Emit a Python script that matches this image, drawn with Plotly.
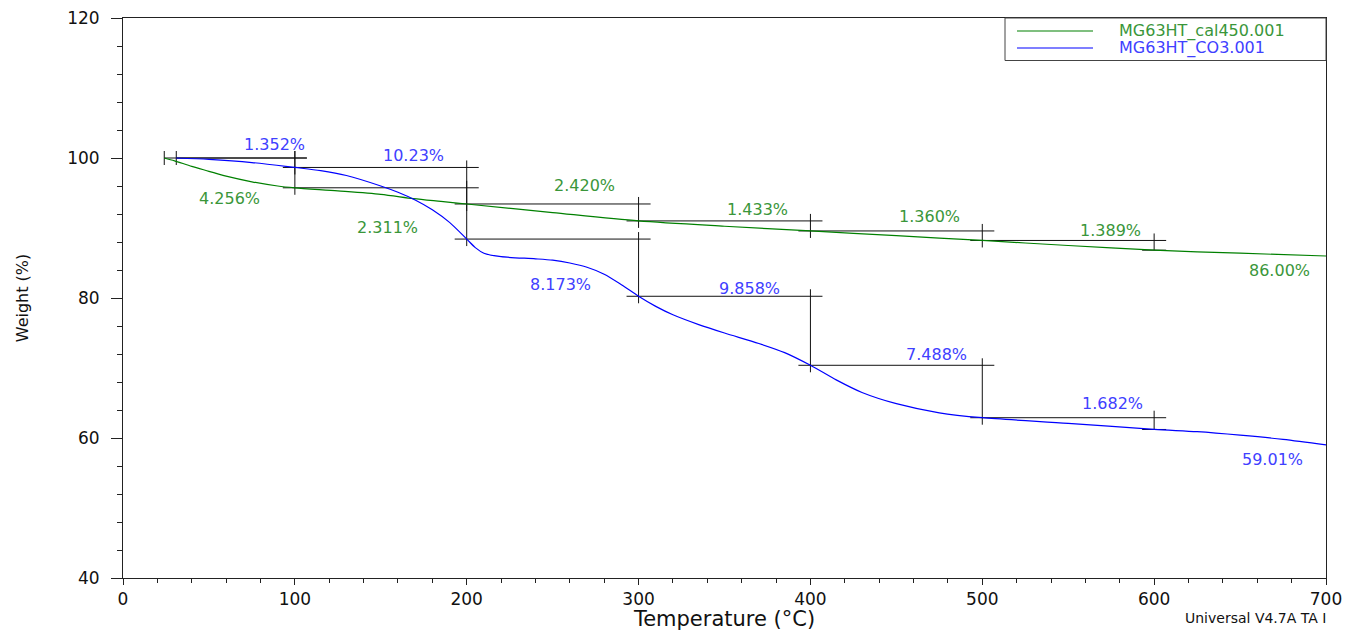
import plotly.graph_objects as go

# ---------------- data ----------------
cal_T = [24, 30, 40, 50, 60, 75, 90, 100, 125, 150, 169, 185, 200, 250, 300, 350, 400, 450, 500, 550, 600, 650, 700]
cal_W = [100.0, 99.6, 98.8, 98.1, 97.4, 96.6, 96.0, 95.74, 95.3, 94.8, 94.2, 93.8, 93.43, 92.2, 91.01, 90.25, 89.58, 88.9, 88.22, 87.5, 86.83, 86.4, 86.0]

co3_T = [31, 50, 75, 100, 115, 130, 150, 160, 170, 180, 190, 200, 205, 210, 220, 240, 250, 260, 270, 280, 290, 300,
         310, 320, 335, 350, 370, 385, 400, 415, 430, 450, 475, 500, 550, 600, 625, 650, 675, 700]
co3_W = [100.0, 99.8, 99.35, 98.65, 98.2, 97.5, 96.0, 95.1, 94.0, 92.6, 90.8, 88.42, 87.2, 86.4, 85.9, 85.6, 85.4, 85.0, 84.4, 83.4, 81.9, 80.25,
         78.8, 77.6, 76.2, 75.0, 73.5, 72.2, 70.39, 68.3, 66.5, 64.9, 63.6, 62.9, 62.1, 61.22, 60.9, 60.4, 59.8, 59.01]

# step analysis (temperatures and weights at step limits)
cal_step_T = [24, 100, 200, 300, 400, 500, 600]
cal_step_W = [100.0, 95.744, 93.433, 91.013, 89.580, 88.220, 86.831]
co3_step_T = [31, 100, 200, 300, 400, 500, 600]
co3_step_W = [100.0, 98.648, 88.418, 80.245, 70.387, 62.899, 61.217]

cal_labels = ["4.256%", "2.311%", "2.420%", "1.433%", "1.360%", "1.389%", "86.00%"]
co3_labels = ["1.352%", "10.23%", "8.173%", "9.858%", "7.488%", "1.682%", "59.01%"]

# label anchor positions (data coords)
cal_label_T = [62.1, 153.9, 268.3, 369.2, 469.0, 574.4, 673.2]
cal_label_W = [94.2, 90.1, 96.1, 92.6, 91.6, 89.6, 83.9]
co3_label_T = [87.9, 168.8, 254.7, 364.3, 473.6, 575.5, 669.0]
co3_label_W = [101.9, 100.4, 81.9, 81.4, 72.0, 64.9, 56.9]

series_names = ["MG63HT_cal450.001", "MG63HT_CO3.001"]

GREEN = "#008000"
BLUE = "#0000ff"
GREEN_TXT = "#3a963a"
BLUE_TXT = "#4040ff"
FONT = "DejaVu Sans"


def step_marks(T, W, dT=7.0, dW=1.0):
    xs, ys = [], []
    def seg(x0, y0, x1, y1):
        xs.extend([x0, x1, None]); ys.extend([y0, y1, None])
    seg(T[0], W[0] + dW, T[0], W[0] - dW)
    n = len(T) - 1
    for i in range(n):
        x_start = T[0] if i == 0 else T[i] - dT
        seg(x_start, W[i], T[i + 1] + dT, W[i])
        if i < n - 1:
            seg(T[i + 1], W[i] + dW, T[i + 1], W[i + 1] - dW)
        else:
            seg(T[i + 1], W[i] + dW, T[i + 1], W[i + 1])
            seg(T[i + 1] - dT, W[i + 1], T[i + 1] + dT, W[i + 1])
    return xs, ys


fig = go.Figure()

for T, W in [(cal_step_T, cal_step_W), (co3_step_T, co3_step_W)]:
    xs, ys = step_marks(T, W)
    fig.add_trace(go.Scatter(x=xs, y=ys, mode="lines", line=dict(color="#111111", width=1),
                             showlegend=False, hoverinfo="skip"))

fig.add_trace(go.Scatter(x=cal_T, y=cal_W, mode="lines", line=dict(color=GREEN, width=1.2, shape="spline", smoothing=0.8),
                         name=series_names[0], showlegend=False))
fig.add_trace(go.Scatter(x=co3_T, y=co3_W, mode="lines", line=dict(color=BLUE, width=1.2, shape="spline", smoothing=0.8),
                         name=series_names[1], showlegend=False))

annotations = []
for txt, x, y in zip(cal_labels, cal_label_T, cal_label_W):
    annotations.append(dict(x=x, y=y, xref="x", yref="y", text=txt, showarrow=False,
                            font=dict(family=FONT, size=16, color=GREEN_TXT)))
for txt, x, y in zip(co3_labels, co3_label_T, co3_label_W):
    annotations.append(dict(x=x, y=y, xref="x", yref="y", text=txt, showarrow=False,
                            font=dict(family=FONT, size=16, color=BLUE_TXT)))

# pixel helpers for paper coordinates
L, R, TOP, BOT = 123, 1326, 18, 578
def px(x):
    return (x - L) / (R - L)
def py(y):
    return (BOT - y) / (BOT - TOP)

# manual legend
shapes = [dict(type="rect", xref="paper", yref="paper", x0=px(1005), x1=px(1326), y0=py(60.5), y1=py(18),
               line=dict(color="#444444", width=1), fillcolor="white", layer="above")]
for yy, col in [(31, GREEN), (48, BLUE)]:
    shapes.append(dict(type="line", xref="paper", yref="paper", x0=px(1017), x1=px(1093), y0=py(yy), y1=py(yy),
                       line=dict(color=col, width=1.2), layer="above"))
for yy, col, name in [(31, GREEN_TXT, series_names[0]), (48, BLUE_TXT, series_names[1])]:
    annotations.append(dict(x=px(1117), y=py(yy), xref="paper", yref="paper", text=name, showarrow=False,
                            xanchor="left", yanchor="middle", font=dict(family=FONT, size=16, color=col)))

annotations.append(dict(x=px(1183), y=py(618), xref="paper", yref="paper", text="Universal V4.7A TA I",
                        showarrow=False, xanchor="left", yanchor="middle",
                        font=dict(family=FONT, size=14, color="#111111")))

fig.update_layout(
    width=1348, height=631,
    margin=dict(l=L, r=1348 - R, t=TOP, b=631 - BOT),
    paper_bgcolor="white", plot_bgcolor="white",
    annotations=annotations, shapes=shapes,
    showlegend=False,
    font=dict(family=FONT, color="#111111"),
)

fig.update_xaxes(
    range=[0, 700], dtick=100, tick0=0, automargin=False,
    showgrid=False, zeroline=False,
    showline=True, linecolor="#222222", linewidth=1, mirror=True,
    ticks="outside", ticklen=6, tickcolor="#222222",
    minor=dict(dtick=20, ticks="outside", ticklen=4, tickcolor="#222222", showgrid=False),
    tickfont=dict(family=FONT, size=17, color="#111111"),
    title=dict(text="Temperature (°C)", font=dict(family=FONT, size=21, color="#111111"), standoff=6),
)
fig.update_yaxes(
    range=[40, 120], dtick=20, tick0=40, automargin=False,
    showgrid=False, zeroline=False,
    showline=True, linecolor="#222222", linewidth=1, mirror=True,
    ticks="outside", ticklen=11, tickcolor="#222222",
    minor=dict(dtick=4, ticks="outside", ticklen=5, tickcolor="#222222", showgrid=False),
    tickfont=dict(family=FONT, size=17, color="#111111"),
    ticklabelstandoff=8,
    title=dict(text="Weight (%)", font=dict(family=FONT, size=16, color="#111111"), standoff=34),
)

fig.write_html("out.html")
